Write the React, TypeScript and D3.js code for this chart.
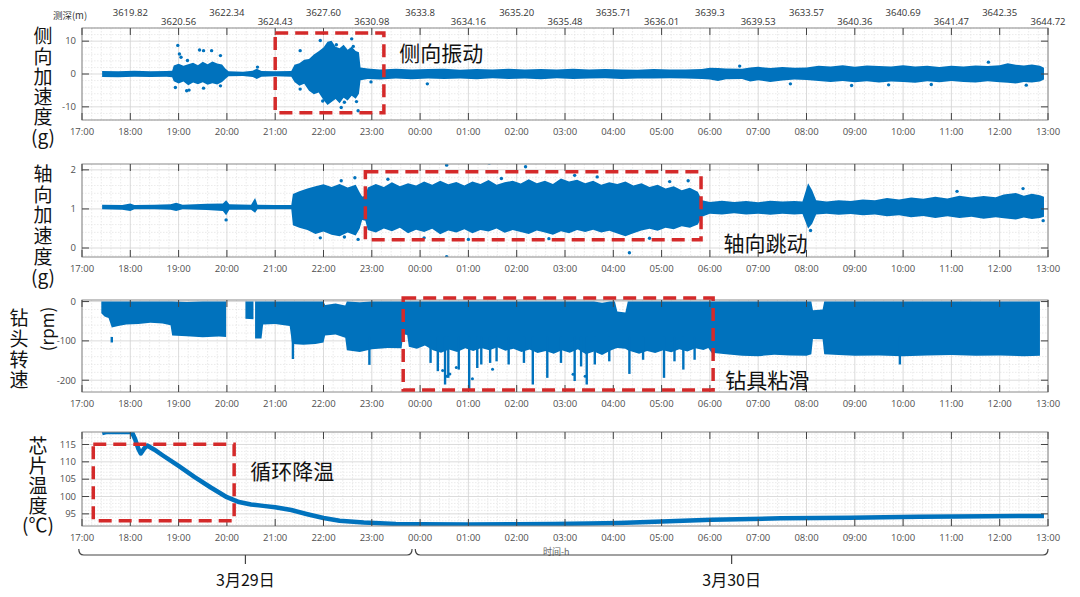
import React from "react";
import * as d3 from "d3";

// ---------- time helpers ----------
function tp(s: string): Date {
  const [h, m] = s.split(":").map(Number);
  const day = h >= 17 ? 29 : 30;
  return new Date(2023, 2, day, h, m);
}
function tpd(s: string, day: number): Date {
  const [h, m] = s.split(":").map(Number);
  return new Date(2023, 2, day, h, m);
}

// ---------- tick labels ----------
const hourLabels = [
  "17:00", "18:00", "19:00", "20:00", "21:00", "22:00", "23:00", "00:00", "01:00", "02:00", "03:00",
  "04:00", "05:00", "06:00", "07:00", "08:00", "09:00", "10:00", "11:00", "12:00", "13:00",
];
const depthLabels = [
  "3619.82", "3620.56", "3622.34", "3624.43", "3627.60", "3630.98", "3633.8", "3634.16", "3635.20", "3635.48",
  "3635.71", "3636.01", "3639.3", "3639.53", "3633.57", "3640.36", "3640.69", "3641.47", "3642.35", "3644.72",
];
const dateLabels = ["3月29日", "3月30日"];

// ---------- panel 1: lateral acceleration (g) — dense band [time, low, high] ----------
const lateralBand: [string, number, number][] = [
  ["17:25", -0.9, 0.9], ["17:45", -1.0, 0.8], ["18:05", -0.8, 1.0], ["18:25", -0.9, 0.8], ["18:45", -0.8, 0.9], ["18:52", -1.0, 1.0],
  ["18:54", -2.2, 2.6], ["19:00", -2.9, 3.1], ["19:06", -2.3, 2.5], ["19:12", -3.4, 3.0], ["19:18", -2.6, 3.4], ["19:24", -3.1, 2.7],
  ["19:30", -2.5, 3.7], ["19:36", -3.3, 3.0], ["19:42", -2.8, 3.8], ["19:48", -3.2, 3.2], ["19:54", -2.4, 2.9], ["19:58", -1.5, 1.7],
  ["20:02", -0.7, 0.8], ["20:20", -0.6, 0.7], ["20:32", -0.9, 1.0], ["20:37", -1.5, 1.6], ["20:43", -0.8, 0.9], ["21:00", -0.7, 0.8],
  ["21:20", -0.8, 0.9], ["21:24", -2.4, 2.8], ["21:30", -3.6, 3.3], ["21:36", -3.0, 4.3], ["21:42", -5.1, 4.6], ["21:48", -6.2, 5.9],
  ["21:54", -5.6, 6.9], ["22:00", -7.9, 8.1], ["22:05", -9.4, 9.8], ["22:10", -8.5, 10.1], ["22:15", -7.6, 8.3], ["22:20", -8.9, 7.8],
  ["22:25", -7.2, 8.9], ["22:30", -8.1, 7.4], ["22:35", -6.6, 8.3], ["22:40", -7.5, 7.0], ["22:44", -6.0, 6.6], ["22:46", -1.9, 2.0],
  ["22:55", -1.5, 1.7], ["23:10", -1.7, 1.4], ["23:30", -1.4, 1.6], ["23:50", -1.6, 1.4], ["00:10", -1.4, 1.5], ["00:30", -1.5, 1.6],
  ["00:50", -1.4, 1.3], ["01:10", -1.6, 1.5], ["01:30", -1.3, 1.4], ["01:50", -1.5, 1.6], ["02:10", -1.4, 1.4], ["02:30", -1.6, 1.5],
  ["02:50", -1.3, 1.4], ["03:10", -1.5, 1.6], ["03:30", -1.4, 1.4], ["03:50", -1.3, 1.5], ["04:10", -1.5, 1.4], ["04:30", -1.4, 1.3],
  ["04:50", -1.4, 1.5], ["05:10", -1.3, 1.4], ["05:30", -1.4, 1.4], ["05:50", -1.5, 1.5], ["06:00", -1.7, 1.9], ["06:10", -2.1, 1.8],
  ["06:20", -1.6, 1.7], ["06:40", -1.5, 1.6], ["06:50", -2.3, 2.0], ["07:00", -1.9, 2.2], ["07:15", -2.4, 1.8], ["07:30", -2.0, 2.1],
  ["07:45", -1.7, 1.9], ["08:00", -1.8, 2.0], ["08:15", -2.1, 2.5], ["08:30", -2.4, 2.3], ["08:45", -2.1, 2.7], ["09:00", -2.5, 2.2],
  ["09:15", -2.2, 2.6], ["09:30", -2.6, 2.4], ["09:45", -2.3, 2.3], ["10:00", -2.4, 2.7], ["10:15", -2.7, 2.3], ["10:30", -2.2, 2.5],
  ["10:45", -2.5, 2.1], ["11:00", -2.1, 2.5], ["11:15", -2.4, 2.3], ["11:30", -2.6, 2.6], ["11:45", -2.2, 2.4], ["12:00", -2.5, 2.7],
  ["12:10", -2.7, 3.3], ["12:20", -2.9, 2.8], ["12:30", -2.4, 2.6], ["12:40", -2.6, 2.9], ["12:50", -2.3, 2.5], ["12:55", -1.7, 1.9],
];
const lateralDots: [string, number][] = [
  ["18:56", -4.1], ["18:59", 8.7], ["19:01", 6.1], ["19:03", 5.1], ["19:10", -5.1], ["19:11", 4.1], ["19:13", -4.9], ["19:26", 7.3],
  ["19:31", 7.1], ["19:31", -4.3], ["19:41", 7.1], ["19:52", 5.6], ["19:52", -3.6], ["20:38", 2.1], ["21:31", 7.1], ["21:31", -4.6],
  ["21:56", 10.2], ["21:59", -8.2], ["22:16", 8.9], ["22:22", -10.2], ["22:26", -8.6], ["22:35", 10.7], ["22:37", 8.4],
  ["22:41", -8.4], ["22:43", -11.2], ["22:59", -2.4], ["00:09", -3.0], ["06:37", 2.4], ["07:40", -3.0], ["08:56", -3.5],
  ["09:42", -3.3], ["10:35", -3.2], ["11:46", 3.6], ["12:33", -3.4],
];

// ---------- panel 2: axial acceleration (g) ----------
const axialBand: [string, number, number][] = [
  ["17:25", 0.99, 1.11], ["17:50", 0.98, 1.10], ["18:00", 0.95, 1.14], ["18:05", 0.99, 1.10], ["18:30", 0.99, 1.11], ["18:50", 0.98, 1.12],
  ["18:57", 0.95, 1.16], ["19:05", 0.99, 1.11], ["19:35", 0.97, 1.13], ["19:55", 0.95, 1.14], ["19:59", 0.84, 1.22], ["20:03", 0.98, 1.12],
  ["20:30", 0.98, 1.11], ["20:35", 0.90, 1.28], ["20:38", 0.99, 1.11], ["21:00", 0.99, 1.10], ["21:20", 0.99, 1.10], ["21:22", 0.58, 1.38],
  ["21:30", 0.52, 1.45], ["21:40", 0.46, 1.52], ["21:50", 0.36, 1.58], ["22:00", 0.42, 1.63], ["22:10", 0.34, 1.56], ["22:20", 0.30, 1.64],
  ["22:30", 0.40, 1.55], ["22:40", 0.32, 1.62], ["22:45", 0.50, 1.42], ["22:48", 0.72, 1.32], ["22:52", 0.70, 1.33], ["22:55", 0.46, 1.55],
  ["23:05", 0.40, 1.64], ["23:15", 0.50, 1.56], ["23:25", 0.43, 1.68], ["23:35", 0.52, 1.58], ["23:45", 0.38, 1.66], ["23:55", 0.47, 1.60],
  ["00:05", 0.41, 1.70], ["00:15", 0.49, 1.62], ["00:25", 0.35, 1.72], ["00:35", 0.45, 1.63], ["00:45", 0.40, 1.69], ["00:55", 0.48, 1.60],
  ["01:05", 0.38, 1.70], ["01:15", 0.46, 1.64], ["01:25", 0.42, 1.74], ["01:35", 0.50, 1.62], ["01:45", 0.39, 1.68], ["01:55", 0.46, 1.72],
  ["02:05", 0.41, 1.65], ["02:15", 0.36, 1.76], ["02:25", 0.45, 1.66], ["02:35", 0.40, 1.72], ["02:45", 0.34, 1.64], ["02:55", 0.43, 1.78],
  ["03:05", 0.38, 1.70], ["03:15", 0.46, 1.75], ["03:25", 0.41, 1.66], ["03:35", 0.47, 1.72], ["03:45", 0.40, 1.62], ["03:55", 0.44, 1.68],
  ["04:05", 0.37, 1.64], ["04:15", 0.30, 1.70], ["04:25", 0.38, 1.60], ["04:35", 0.45, 1.66], ["04:45", 0.49, 1.56], ["04:55", 0.44, 1.62],
  ["05:05", 0.52, 1.52], ["05:15", 0.48, 1.58], ["05:25", 0.56, 1.48], ["05:35", 0.52, 1.54], ["05:45", 0.60, 1.44], ["05:50", 0.80, 1.22],
  ["06:00", 0.88, 1.18], ["06:15", 0.86, 1.21], ["06:30", 0.89, 1.18], ["06:45", 0.86, 1.20], ["07:00", 0.88, 1.17], ["07:15", 0.85, 1.21],
  ["07:30", 0.88, 1.19], ["07:45", 0.86, 1.20], ["07:55", 0.87, 1.19], ["08:02", 0.50, 1.66], ["08:07", 0.62, 1.48], ["08:12", 0.86, 1.22],
  ["08:25", 0.88, 1.19], ["08:40", 0.85, 1.22], ["08:55", 0.87, 1.20], ["09:10", 0.84, 1.24], ["09:25", 0.86, 1.22], ["09:40", 0.81, 1.28],
  ["09:55", 0.84, 1.24], ["10:10", 0.79, 1.29], ["10:25", 0.82, 1.26], ["10:40", 0.77, 1.31], ["10:55", 0.81, 1.27], ["11:10", 0.77, 1.34],
  ["11:25", 0.80, 1.29], ["11:40", 0.75, 1.33], ["11:55", 0.79, 1.30], ["12:05", 0.76, 1.37], ["12:20", 0.73, 1.41], ["12:30", 0.78, 1.34],
  ["12:40", 0.74, 1.39], ["12:50", 0.77, 1.35], ["12:55", 0.80, 1.31],
];
const axialDots: [string, number][] = [
  ["19:59", 0.72], ["21:56", 0.26], ["22:22", 1.72], ["22:26", 0.28], ["22:39", 1.80], ["22:43", 0.22], ["23:20", 1.76], ["23:46", 0.46],
  ["00:05", 0.26], ["00:33", -0.22], ["00:33", 2.12], ["01:00", 0.22], ["01:26", 2.18], ["01:41", 1.78], ["02:11", 2.08], ["02:40", 0.24],
  ["03:12", 1.86], ["03:40", 1.82], ["04:20", -0.12], ["04:22", 1.96], ["04:45", 0.25], ["05:10", 1.70], ["05:33", 1.72], ["08:05", 0.45],
  ["11:07", 1.45], ["12:29", 1.52], ["12:54", 0.70],
];

// ---------- panel 3: bit rotary speed (rpm) — [time, low, high], null = no data ----------
const rpmBand: [string, number | null, number | null][] = [
  ["17:24", -30, 0], ["17:28", -38, 0], ["17:33", -42, 0], ["17:37", -66, 0], ["17:45", -62, 0], ["17:55", -58, 0], ["18:10", -57, 0],
  ["18:25", -54, 0], ["18:40", -56, 0], ["18:50", -60, 0], ["18:52", -86, 0], ["19:10", -88, -1], ["19:30", -91, 0], ["19:50", -89, 0],
  ["19:59", -90, 0], ["20:00", null, null], ["20:23", -44, 0], ["20:33", -45, 0], ["20:34", null, null], ["20:35", -94, 0], ["20:43", -94, 0],
  ["20:45", -58, 0], ["21:00", -57, 0], ["21:18", -62, 0], ["21:21", -108, 0], ["21:35", -110, 0], ["21:50", -108, 0], ["22:00", -104, 0],
  ["22:02", -86, -9], ["22:15", -84, -5], ["22:27", -92, -10], ["22:29", -124, 0], ["22:45", -128, -2], ["23:00", -121, 0], ["23:20", -118, 0],
  ["23:37", -119, 0], ["23:39", -83, 0], ["23:44", -85, 0], ["23:46", -115, 0], ["23:56", -120, 0], ["00:06", -112, 0], ["00:16", -124, 0],
  ["00:26", -130, 0], ["00:36", -122, 0], ["00:46", -128, 0], ["00:56", -119, 0], ["01:06", -126, 0], ["01:16", -118, 0], ["01:26", -124, 0],
  ["01:36", -116, 0], ["01:46", -125, 0], ["01:56", -120, 0], ["02:06", -128, 0], ["02:16", -122, 0], ["02:26", -131, 0], ["02:36", -126, 0],
  ["02:46", -133, 0], ["02:56", -124, 0], ["03:06", -130, 0], ["03:16", -121, 0], ["03:26", -134, 0], ["03:36", -127, 0], ["03:46", -136, -3],
  ["03:56", -125, 0], ["04:02", -120, 0], ["04:05", -118, -25], ["04:15", -120, -28], ["04:18", -124, 0], ["04:32", -133, 0], ["04:42", -126, 0],
  ["04:52", -131, 0], ["05:02", -124, 0], ["05:12", -129, 0], ["05:22", -121, 0], ["05:32", -127, 0], ["05:42", -119, 0], ["05:52", -123, 0],
  ["05:58", -118, 0], ["06:02", -130, 0], ["06:20", -134, 0], ["06:40", -138, 0], ["07:00", -139, 0], ["07:20", -135, 0], ["07:40", -137, 0],
  ["08:00", -138, 0], ["08:06", -134, 0], ["08:08", -95, -22], ["08:20", -96, -20], ["08:22", -134, 0], ["08:40", -136, 0], ["09:00", -138, 0],
  ["09:30", -137, 0], ["10:00", -139, 0], ["10:30", -137, 0], ["11:00", -136, 0], ["11:30", -138, 0], ["12:00", -137, 0], ["12:30", -139, 0],
  ["12:50", -138, 0],
];
const rpmSpikes: [string, number][] = [
  ["17:37", -104], ["21:22", -146], ["22:57", -161], ["00:13", -156], ["00:22", -177], ["00:31", -211], ["00:35", -194], ["00:48", -173],
  ["01:01", -226], ["01:11", -169], ["01:16", -160], ["01:27", -156], ["01:35", -152], ["01:50", -160], ["02:09", -156], ["02:20", -211],
  ["02:38", -194], ["02:55", -156], ["03:12", -202], ["03:20", -165], ["03:27", -211], ["03:37", -160], ["03:55", -152], ["04:20", -184],
  ["04:37", -148], ["05:03", -194], ["05:16", -152], ["05:27", -173], ["05:41", -148], ["09:56", -160],
];
const rpmDots: [string, number][] = [
  ["00:28", -175], ["00:33", -190], ["00:37", -184], ["00:45", -168], ["01:05", -196], ["01:30", -172], ["03:10", -185], ["03:25", -190],
];

// ---------- panel 4: chip temperature (°C) ----------
const tempSeries: [string, number][] = [
  ["17:25", 118.3], ["17:30", 118.6], ["18:02", 118.6], ["18:06", 116.5], ["18:10", 113.8], ["18:13", 112.4], ["18:17", 113.8], ["18:21", 114.7],
  ["18:30", 113.5], ["18:40", 111.9], ["19:00", 108.8], ["19:20", 105.6], ["19:40", 102.6], ["20:00", 99.8], ["20:15", 98.4], ["20:30", 97.7],
  ["20:45", 97.3], ["21:00", 96.9], ["21:20", 96.1], ["21:40", 94.9], ["22:00", 93.8], ["22:20", 93.0], ["22:50", 92.5], ["23:30", 92.1],
  ["00:00", 92.0], ["01:00", 91.95], ["02:00", 92.0], ["02:45", 92.1], ["03:30", 92.2], ["04:07", 92.4], ["05:00", 92.8], ["06:02", 93.3],
  ["07:28", 93.7], ["08:54", 93.9], ["10:20", 94.2], ["11:45", 94.3], ["12:55", 94.4],
];

// ---------- layout ----------
const BLUE = "#0072BD";
const RED = "#d42a2a";
const NUM_FONT = "'Open Sans', 'Liberation Sans', sans-serif";
const CJK_FONT = "'Noto Sans CJK SC', 'Noto Sans', sans-serif";

type PanelCfg = {
  top: number; bottom: number; domain: [number, number]; ticks: number[]; minor: number;
  title: string; unit: string; titleX: number; titleY0: number; titleStep: number;
};
const panels: PanelCfg[] = [
  { top: 28, bottom: 120, domain: [-14, 14], ticks: [-10, 0, 10], minor: 2, title: "侧向加速度", unit: "(g)", titleX: 43, titleY0: 36, titleStep: 20.3 },
  { top: 164, bottom: 257, domain: [-0.23, 2.15], ticks: [0, 1, 2], minor: 0.2, title: "轴向加速度", unit: "(g)", titleX: 43, titleY0: 174, titleStep: 20.6 },
  { top: 300, bottom: 392, domain: [-230, 4], ticks: [-200, -100, 0], minor: 20, title: "钻头转速", unit: "", titleX: 19, titleY0: 318, titleStep: 20.7 },
  { top: 432, bottom: 526, domain: [91.5, 118.6], ticks: [95, 100, 105, 110, 115], minor: 1, title: "芯片温度", unit: "(℃)", titleX: 38, titleY0: 446, titleStep: 19.8 },
];
const TITLE_SIZE = 19;

const annotations = [
  { panel: 0, from: "21:00", to: "23:15", top: 12.5, bottom: -11.8, label: "侧向振动", lx: "23:34", ly: 6.7 },
  { panel: 1, from: "22:52", to: "05:49", top: 1.95, bottom: 0.21, label: "轴向跳动", lx: "06:17", ly: 0.155 },
  { panel: 2, from: "23:39", to: "06:04", top: 9, bottom: -225, label: "钻具粘滑", lx: "06:19", ly: -197 },
  { panel: 3, from: "17:14", to: "20:09", top: 115.1, bottom: 93.0, label: "循环降温", lx: "20:29", ly: 107.6 },
];

const braces = [
  { from: tpd("16:56", 29), to: tpd("23:50", 29), label: dateLabels[0] },
  { from: tpd("23:54", 29), to: tpd("13:00", 30), label: dateLabels[1] },
];

export default function App() {
  const x = d3.scaleTime().domain([tp("17:00"), tp("13:00")]).range([82, 1048]);
  const ys = panels.map((p) => d3.scaleLinear().domain(p.domain).range([p.bottom, p.top]));
  const x0 = x.range()[0];
  const x1 = x.range()[1];
  const minorX = x.ticks(d3.timeMinute.every(12) as any).filter((d: Date) => d.getMinutes() !== 0);

  const bandArea = (y: d3.ScaleLinear<number, number>) =>
    d3.area<[string, number | null, number | null]>()
      .defined((d) => d[1] != null && d[2] != null)
      .x((d) => x(tp(d[0])))
      .y0((d) => y(d[1] as number))
      .y1((d) => y(d[2] as number));

  const tempLine = d3.line<[string, number]>().x((d) => x(tp(d[0]))).y((d) => ys[3](d[1]));

  const frame = (p: PanelCfg, i: number) => {
    const y = ys[i];
    const [d0, d1] = p.domain;
    const minorY: number[] = [];
    for (let v = Math.ceil(d0 / p.minor) * p.minor; v <= d1 + 1e-9; v += p.minor) {
      const r = Math.round(v * 1000) / 1000;
      if (!p.ticks.some((t) => Math.abs(t - r) < 1e-6)) minorY.push(r);
    }
    return (
      <g key={"grid" + i}>
        <rect x={x0} y={p.top} width={x1 - x0} height={p.bottom - p.top} fill="#fff" />
        {minorX.map((d: Date, k: number) => (
          <line key={"mx" + k} x1={x(d)} x2={x(d)} y1={p.top} y2={p.bottom} stroke="#e2e2e2" strokeWidth={0.7} strokeDasharray="1.5,1.5" />
        ))}
        {minorY.map((v, k) => (
          <line key={"my" + k} x1={x0} x2={x1} y1={y(v)} y2={y(v)} stroke="#e2e2e2" strokeWidth={0.7} strokeDasharray="1.5,1.5" />
        ))}
        {hourLabels.map((h, k) => (
          <line key={"gx" + k} x1={x(tp(h))} x2={x(tp(h))} y1={p.top} y2={p.bottom} stroke="#d2d2d2" strokeWidth={0.8} />
        ))}
        {p.ticks.map((t, k) => (
          <line key={"gy" + k} x1={x0} x2={x1} y1={y(t)} y2={y(t)} stroke="#d2d2d2" strokeWidth={0.8} />
        ))}
      </g>
    );
  };

  const axes = (p: PanelCfg, i: number) => {
    const y = ys[i];
    const n = Array.from(p.title).length;
    return (
      <g key={"axes" + i}>
        <rect x={x0} y={p.top} width={x1 - x0} height={p.bottom - p.top} fill="none" stroke="#8a8a8a" strokeWidth={1} />
        {hourLabels.map((h, k) => {
          const xx = x(tp(h));
          return (
            <g key={"xt" + k}>
              <line x1={xx} x2={xx} y1={p.top} y2={p.top + 7} stroke="#444" strokeWidth={1} />
              <line x1={xx} x2={xx} y1={p.bottom} y2={p.bottom - 7} stroke="#444" strokeWidth={1} />
              <text x={xx} y={p.bottom + 15} textAnchor="middle" fontSize={9.5} fill="#505050" fontFamily={NUM_FONT}>{h}</text>
            </g>
          );
        })}
        {p.ticks.map((t, k) => (
          <g key={"yt" + k}>
            <line x1={x0} x2={x0 + 7} y1={y(t)} y2={y(t)} stroke="#444" strokeWidth={1} />
            <line x1={x1} x2={x1 - 7} y1={y(t)} y2={y(t)} stroke="#444" strokeWidth={1} />
            <text x={76} y={y(t) + 3.3} textAnchor="end" fontSize={9.5} fill="#505050" fontFamily={NUM_FONT}>{String(t)}</text>
          </g>
        ))}
        <text x={p.titleX} y={p.titleY0 - TITLE_SIZE / 2} fontSize={TITLE_SIZE} fill="#111" fontFamily={CJK_FONT}
          letterSpacing={p.titleStep - TITLE_SIZE}
          style={{ writingMode: "vertical-rl", textOrientation: "upright" } as any}>{p.title}</text>
        {p.unit && (
          <text x={p.titleX} y={p.titleY0 + n * p.titleStep + 6.5} textAnchor="middle" fontSize={TITLE_SIZE} fill="#111" fontFamily={CJK_FONT}>{p.unit}</text>
        )}
      </g>
    );
  };

  return (
    <svg width={1080} height={597} viewBox="0 0 1080 597" style={{ position: "absolute", left: 0, top: 0, background: "#fff" }}>
      <defs>
        {panels.map((p, i) => (
          <clipPath id={"clip" + i} key={"c" + i}>
            <rect x={x0} y={p.top} width={x1 - x0} height={p.bottom - p.top} />
          </clipPath>
        ))}
      </defs>
      <rect x={0} y={0} width={1080} height={597} fill="#fff" />

      {/* depth labels */}
      <text x={70} y={19} textAnchor="middle" fontSize={9.5} fill="#333" fontFamily={CJK_FONT}>测深(m)</text>
      {depthLabels.map((d, k) => (
        <text key={"dp" + k} x={x(tp(hourLabels[k + 1]))} y={k % 2 === 0 ? 15.5 : 24.5} textAnchor="middle" fontSize={9.5} fill="#333" fontFamily={NUM_FONT}>{d}</text>
      ))}

      {panels.map((p, i) => frame(p, i))}

      {/* panel 1 */}
      <g clipPath="url(#clip0)">
        <path d={bandArea(ys[0])(lateralBand as any) || ""} fill={BLUE} />
        {lateralDots.map((d, k) => (
          <circle key={"ld" + k} cx={x(tp(d[0]))} cy={ys[0](d[1])} r={1.7} fill={BLUE} />
        ))}
      </g>

      {/* panel 2 */}
      <g clipPath="url(#clip1)">
        <path d={bandArea(ys[1])(axialBand as any) || ""} fill={BLUE} />
        {axialDots.map((d, k) => (
          <circle key={"ad" + k} cx={x(tp(d[0]))} cy={ys[1](d[1])} r={1.7} fill={BLUE} />
        ))}
      </g>

      {/* panel 3 */}
      <g clipPath="url(#clip2)">
        <path d={bandArea(ys[2])(rpmBand) || ""} fill={BLUE} />
        {rpmSpikes.map((d, k) => (
          <line key={"rs" + k} x1={x(tp(d[0]))} x2={x(tp(d[0]))} y1={ys[2](-90)} y2={ys[2](d[1])} stroke={BLUE} strokeWidth={2.4} />
        ))}
        {rpmDots.map((d, k) => (
          <circle key={"rd" + k} cx={x(tp(d[0]))} cy={ys[2](d[1])} r={1.5} fill={BLUE} />
        ))}
      </g>

      {/* panel 4 */}
      <g clipPath="url(#clip3)">
        <path d={tempLine(tempSeries) || ""} fill="none" stroke={BLUE} strokeWidth={4.5} strokeLinejoin="round" />
      </g>

      {panels.map((p, i) => axes(p, i))}

      {/* (rpm) rotated label */}
      <text transform="translate(46,329) rotate(-90)" textAnchor="middle" dominantBaseline="central" fontSize={17} fill="#111" fontFamily={CJK_FONT}>(rpm)</text>

      {/* annotations */}
      {annotations.map((a, k) => {
        const y = ys[a.panel];
        const ax0 = x(tp(a.from));
        const ax1 = x(tp(a.to));
        const ay0 = y(a.top);
        const ay1 = y(a.bottom);
        return (
          <g key={"an" + k}>
            <rect x={ax0} y={ay0} width={ax1 - ax0} height={ay1 - ay0} fill="none" stroke={RED} strokeWidth={3.5} strokeDasharray="13,7" />
            <text x={x(tp(a.lx))} y={y(a.ly)} dominantBaseline="central" fontSize={21} fill="#111" fontFamily={CJK_FONT}>{a.label}</text>
          </g>
        );
      })}

      {/* time label */}
      <text x={543} y={555} textAnchor="start" fontSize={9} fill="#666" fontFamily={CJK_FONT}>时间-h</text>

      {/* date braces */}
      {braces.map((b, k) => {
        const bx0 = x(b.from);
        const bx1 = x(b.to);
        const mid = (bx0 + bx1) / 2;
        const yL = 555;
        const d = `M${bx0},${yL - 6} Q${bx0},${yL} ${bx0 + 5},${yL} L${bx1 - 5},${yL} Q${bx1},${yL} ${bx1},${yL - 6} M${mid},${yL} L${mid},${yL + 9}`;
        return (
          <g key={"br" + k}>
            <path d={d} fill="none" stroke="#444" strokeWidth={1.2} />
            <text x={mid} y={586} textAnchor="middle" fontSize={16} fill="#111" fontFamily={CJK_FONT}>{b.label}</text>
          </g>
        );
      })}
    </svg>
  );
}
